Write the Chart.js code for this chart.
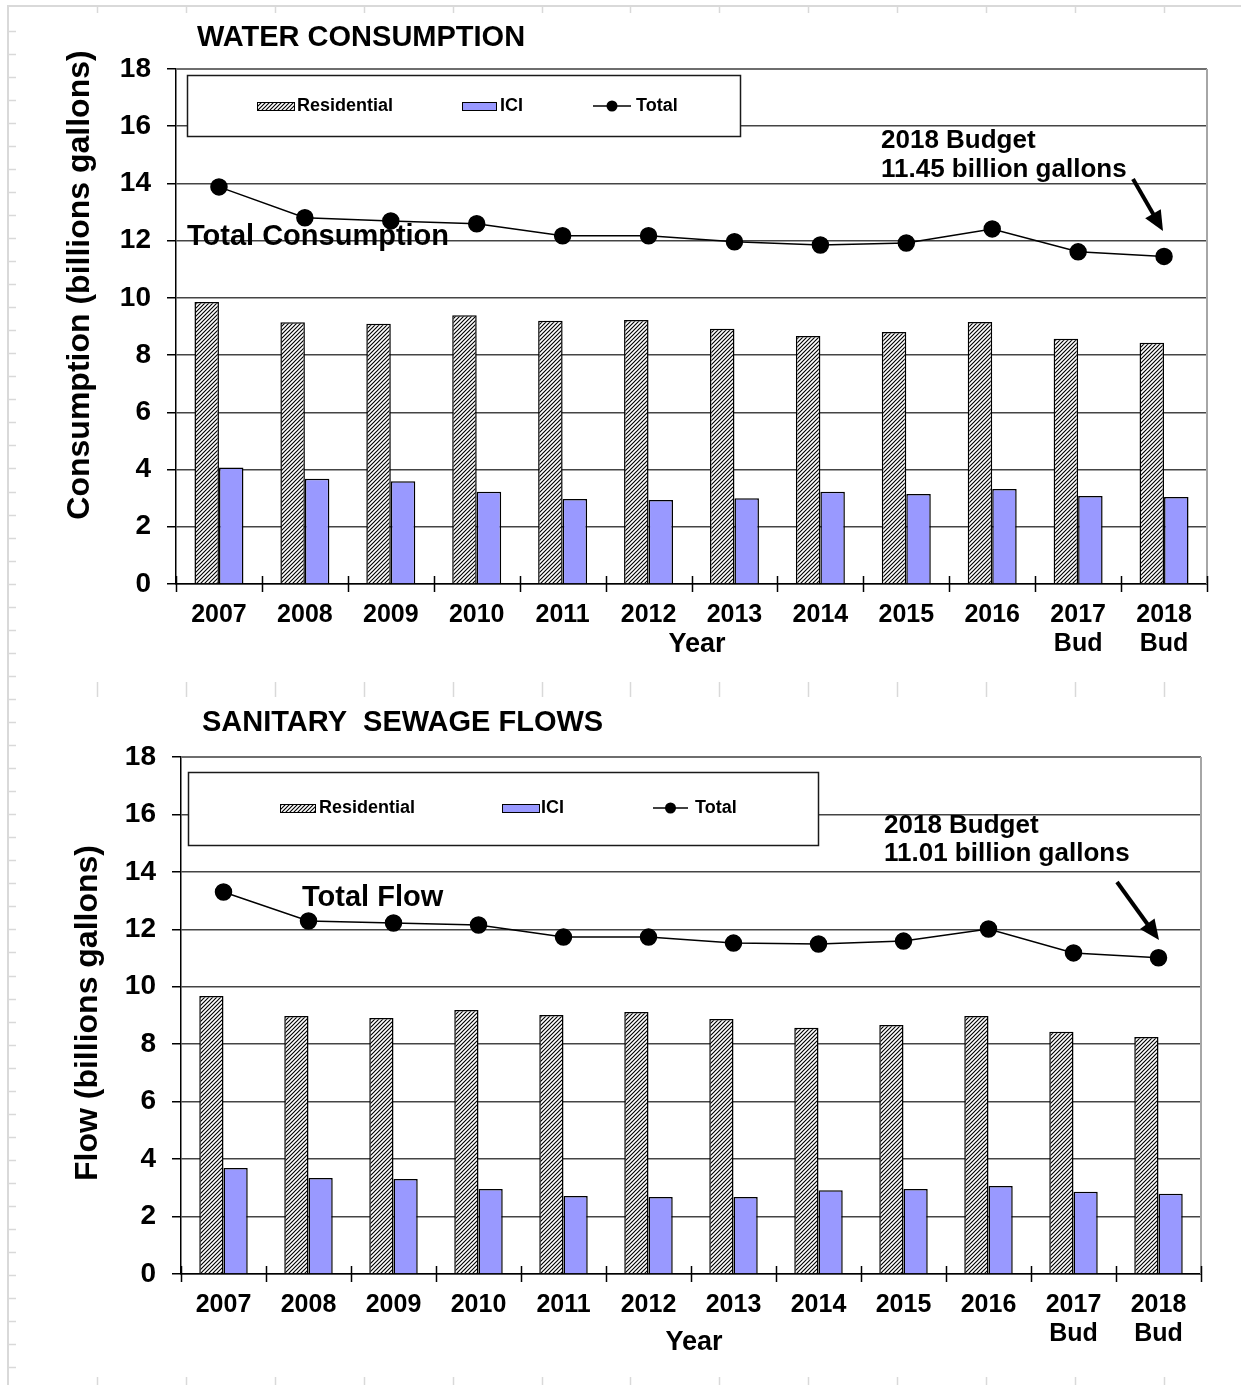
<!DOCTYPE html>
<html lang="en">
<head>
<meta charset="UTF-8">
<title>Water Consumption and Sanitary Sewage Flows</title>
<style>
    body {
        margin: 0;
        background: #fff;
        font-family: "Liberation Sans", Arial, sans-serif;
    }
    #page {
        position: relative;
        width: 1241px;
        height: 1385px;
        overflow: hidden;
    }
    #page canvas {
        position: absolute;
        left: 0;
    }
    #frame { top: 0; }
    #waterChart { top: 0; }
    #sewageChart { top: 690px; }
</style>
</head>
<body>
<div id="page">
    <canvas id="frame" width="1241" height="1385"></canvas>
    <canvas id="waterChart" width="1241" height="685"></canvas>
    <canvas id="sewageChart" width="1241" height="695"></canvas>
</div>

<script src="https://cdn.jsdelivr.net/npm/chart.js"></script>
<script>
// billions of gallons per year
const years = ['2007', '2008', '2009', '2010', '2011', '2012', '2013', '2014', '2015', '2016', ['2017', 'Bud'], ['2018', 'Bud']];
const waterResidential = [9.86, 9.15, 9.10, 9.39, 9.20, 9.23, 8.92, 8.67, 8.81, 9.16, 8.57, 8.43];
const waterIci = [4.07, 3.68, 3.59, 3.22, 2.97, 2.94, 3.00, 3.22, 3.15, 3.32, 3.08, 3.04];
const waterTotal = [13.88, 12.80, 12.69, 12.59, 12.17, 12.17, 11.96, 11.85, 11.92, 12.41, 11.61, 11.45];
const sewageResidential = [9.68, 8.98, 8.91, 9.19, 9.02, 9.12, 8.88, 8.57, 8.67, 8.98, 8.43, 8.25];
const sewageIci = [3.69, 3.34, 3.31, 2.96, 2.72, 2.68, 2.68, 2.92, 2.96, 3.06, 2.86, 2.79];
const sewageTotal = [13.30, 12.29, 12.22, 12.15, 11.73, 11.73, 11.52, 11.49, 11.59, 12.01, 11.18, 11.01];
const yMin = 0, yMax = 18, yStep = 2;

const FONT = '"Liberation Sans", Arial, sans-serif';
const ICI_BLUE = '#9999ff';

// light grey page guides around and between the two charts
function drawFrame() {
    const g = document.getElementById('frame').getContext('2d');
    g.strokeStyle = '#d9d9d9';
    g.lineWidth = 2;
    g.beginPath();
    g.moveTo(8, 1385); g.lineTo(8, 6); g.lineTo(1241, 6);
    g.stroke();
    g.lineWidth = 1.5;
    g.beginPath();
    for (let y = 30.5; y < 1385; y += 23.05) {
        g.moveTo(8, Math.round(y) + 0.5); g.lineTo(16, Math.round(y) + 0.5);
    }
    for (let k = 0; k < 13; k++) {
        const x = Math.round(97 + 88.9 * k) + 0.5;
        g.moveTo(x, 6); g.lineTo(x, 13);
        g.moveTo(x, 682); g.lineTo(x, 697);
        g.moveTo(x, 1377); g.lineTo(x, 1385);
    }
    g.stroke();
}

function hatchPattern(ctx) {
    const c = document.createElement('canvas');
    c.width = 4; c.height = 4;
    const g = c.getContext('2d');
    g.fillStyle = '#fff';
    g.fillRect(0, 0, 4, 4);
    g.strokeStyle = '#000';
    g.lineWidth = 1.15;
    g.beginPath();
    g.moveTo(-1, 5); g.lineTo(5, -1);
    g.moveTo(-1, 1); g.lineTo(1, -1);
    g.moveTo(3, 5); g.lineTo(5, 3);
    g.stroke();
    return ctx.createPattern(c, 'repeat');
}

function arrow(ctx, x1, y1, x2, y2) {
    const ang = Math.atan2(y2 - y1, x2 - x1);
    const head = 20, half = 9;
    const bx = x2 - head * Math.cos(ang), by = y2 - head * Math.sin(ang);
    ctx.strokeStyle = '#000';
    ctx.lineWidth = 4;
    ctx.beginPath();
    ctx.moveTo(x1, y1); ctx.lineTo(bx + 3 * Math.cos(ang), by + 3 * Math.sin(ang));
    ctx.stroke();
    ctx.fillStyle = '#000';
    ctx.beginPath();
    ctx.moveTo(x2, y2);
    ctx.lineTo(bx + half * Math.sin(ang), by - half * Math.cos(ang));
    ctx.lineTo(bx - half * Math.sin(ang), by + half * Math.cos(ang));
    ctx.closePath();
    ctx.fill();
}

// titles, legend box, notes and axis furniture drawn on top of the datasets
const decor = {
    id: 'decor',
    afterDatasetsDraw(chart, args, o) {
        const ctx = chart.ctx, a = chart.chartArea;
        const ds = chart.data.datasets;
        ctx.save();

        // plot frame: top and right edges
        ctx.lineWidth = 2;
        ctx.strokeStyle = '#6e6e6e';
        ctx.beginPath(); ctx.moveTo(a.left, a.top); ctx.lineTo(a.right, a.top); ctx.stroke();
        ctx.strokeStyle = '#a6a6a6';
        ctx.beginPath(); ctx.moveTo(a.right, a.top); ctx.lineTo(a.right, a.bottom); ctx.stroke();

        // category tick marks crossing the x axis
        const n = chart.data.labels.length;
        ctx.strokeStyle = '#000';
        ctx.lineWidth = 1.5;
        ctx.beginPath();
        for (let i = 0; i <= n; i++) {
            const x = Math.round(a.left + i * (a.right - a.left) / n) + 0.5;
            ctx.moveTo(x, a.bottom - 8); ctx.lineTo(x, a.bottom + 8);
        }
        ctx.stroke();

        ctx.fillStyle = '#000';
        ctx.textBaseline = 'middle';

        // chart title
        ctx.font = 'bold 29px ' + FONT;
        ctx.textAlign = 'left';
        ctx.fillText(o.title, o.titleX, o.titleY);

        // y axis title
        ctx.save();
        ctx.translate(o.yTitleX, o.yTitleY);
        ctx.rotate(-Math.PI / 2);
        ctx.textAlign = 'center';
        ctx.font = 'bold 32px ' + FONT;
        ctx.fillText(o.yTitle, 0, 0);
        ctx.restore();

        // x axis title
        ctx.textAlign = 'center';
        ctx.font = 'bold 27px ' + FONT;
        ctx.fillText('Year', o.yearX, o.yearY);

        // label beside the total line
        ctx.textAlign = 'left';
        ctx.font = 'bold 29px ' + FONT;
        ctx.fillText(o.lineLabel, o.lineLabelX, o.lineLabelY);

        // budget note with arrow
        ctx.font = 'bold 26px ' + FONT;
        o.note.forEach((t, i) => ctx.fillText(t, o.noteX, o.noteY[i]));
        arrow(ctx, o.arrow[0], o.arrow[1], o.arrow[2], o.arrow[3]);

        // legend
        const b = o.legendBox;
        ctx.fillStyle = '#fff';
        ctx.fillRect(b[0], b[1], b[2] - b[0], b[3] - b[1]);
        ctx.strokeStyle = '#1a1a1a';
        ctx.lineWidth = 1.5;
        ctx.strokeRect(b[0] + 0.5, b[1] + 0.5, b[2] - b[0], b[3] - b[1]);
        const ly = o.legendY;
        ctx.font = 'bold 18px ' + FONT;
        ctx.lineWidth = 1;
        const li = o.legendItems;
        // Residential
        ctx.fillStyle = ds[0].backgroundColor;
        ctx.fillRect(li[0].sx, ly - 4, li[0].sw, 8);
        ctx.strokeStyle = '#000';
        ctx.strokeRect(li[0].sx + 0.5, ly - 4 + 0.5, li[0].sw, 8);
        ctx.fillStyle = '#000';
        ctx.fillText(ds[0].label, li[0].tx, ly);
        // ICI
        ctx.fillStyle = ds[1].backgroundColor;
        ctx.fillRect(li[1].sx, ly - 4, li[1].sw, 8);
        ctx.strokeRect(li[1].sx + 0.5, ly - 4 + 0.5, li[1].sw, 8);
        ctx.fillStyle = '#000';
        ctx.fillText(ds[1].label, li[1].tx, ly);
        // Total
        ctx.lineWidth = 1.5;
        ctx.beginPath();
        ctx.moveTo(li[2].sx, ly); ctx.lineTo(li[2].sx + li[2].sw, ly);
        ctx.stroke();
        ctx.beginPath();
        ctx.arc(li[2].sx + li[2].sw / 2, ly, 5.5, 0, Math.PI * 2);
        ctx.fill();
        ctx.fillText(ds[2].label, li[2].tx, ly);

        ctx.restore();
    }
};

function buildChart(id, residential, ici, total, geo, deco) {
    const canvas = document.getElementById(id);
    const ctx = canvas.getContext('2d');
    return new Chart(ctx, {
        type: 'bar',
        data: {
            labels: years,
            datasets: [
                {
                    label: 'Residential',
                    data: residential,
                    backgroundColor: hatchPattern(ctx),
                    borderColor: '#000',
                    borderWidth: 1.5,
                    order: 1
                },
                {
                    label: 'ICI',
                    data: ici,
                    backgroundColor: ICI_BLUE,
                    borderColor: '#000',
                    borderWidth: 1.5,
                    order: 1
                },
                {
                    type: 'line',
                    label: 'Total',
                    data: total,
                    borderColor: '#000',
                    borderWidth: 1.5,
                    pointRadius: 8,
                    pointBackgroundColor: '#000',
                    pointBorderColor: '#000',
                    tension: 0,
                    order: 0
                }
            ]
        },
        options: {
            responsive: false,
            animation: false,
            events: [],
            categoryPercentage: 0.57,
            barPercentage: 1.0,
            layout: {
                padding: { top: geo.top, right: geo.right, left: 0, bottom: 0 }
            },
            plugins: {
                legend: { display: false },
                tooltip: { enabled: false },
                decor: deco
            },
            scales: {
                x: {
                    afterFit: s => { s.height = geo.xHeight; },
                    grid: { display: false, drawTicks: false },
                    border: { display: true, color: '#000', width: 1.5 },
                    ticks: {
                        color: '#000',
                        padding: 17,
                        maxRotation: 0,
                        autoSkip: false,
                        font: { family: FONT, size: 25, weight: 'bold', lineHeight: 1.16 }
                    }
                },
                y: {
                    min: yMin,
                    max: yMax,
                    afterFit: s => { s.width = geo.left; },
                    grid: {
                        color: '#444',
                        lineWidth: 1.5,
                        tickColor: '#000',
                        tickLength: 9
                    },
                    border: { display: true, color: '#000', width: 1.5 },
                    ticks: {
                        stepSize: yStep,
                        color: '#000',
                        padding: 16,
                        font: { family: FONT, size: 28, weight: 'bold' }
                    }
                }
            }
        },
        plugins: [decor]
    });
}

drawFrame();

buildChart('waterChart', waterResidential, waterIci, waterTotal,
    { top: 69, right: 34, left: 176, xHeight: 101 },
    {
        title: 'WATER CONSUMPTION', titleX: 197, titleY: 38,
        yTitle: 'Consumption (billions gallons)', yTitleX: 80, yTitleY: 285,
        yearX: 697, yearY: 645,
        lineLabel: 'Total Consumption', lineLabelX: 187, lineLabelY: 237,
        note: ['2018 Budget', '11.45 billion gallons'], noteX: 881, noteY: [141, 170],
        arrow: [1133, 179, 1163, 231],
        legendBox: [187, 75, 740, 136], legendY: 106,
        legendItems: [
            { sx: 257, sw: 37, tx: 297 },
            { sx: 462, sw: 34, tx: 500 },
            { sx: 593, sw: 38, tx: 636 }
        ]
    });

buildChart('sewageChart', sewageResidential, sewageIci, sewageTotal,
    { top: 67, right: 40, left: 181, xHeight: 111 },
    {
        title: 'SANITARY  SEWAGE FLOWS', titleX: 202, titleY: 33,
        yTitle: 'Flow (billions gallons)', yTitleX: 88, yTitleY: 323,
        yearX: 694, yearY: 653,
        lineLabel: 'Total Flow', lineLabelX: 302, lineLabelY: 208,
        note: ['2018 Budget', '11.01 billion gallons'], noteX: 884, noteY: [136, 164],
        arrow: [1117, 192, 1159, 250],
        legendBox: [188, 82, 818, 155], legendY: 118,
        legendItems: [
            { sx: 280, sw: 35, tx: 319 },
            { sx: 502, sw: 37, tx: 541 },
            { sx: 653, sw: 35, tx: 695 }
        ]
    });
</script>
</body>
</html>
